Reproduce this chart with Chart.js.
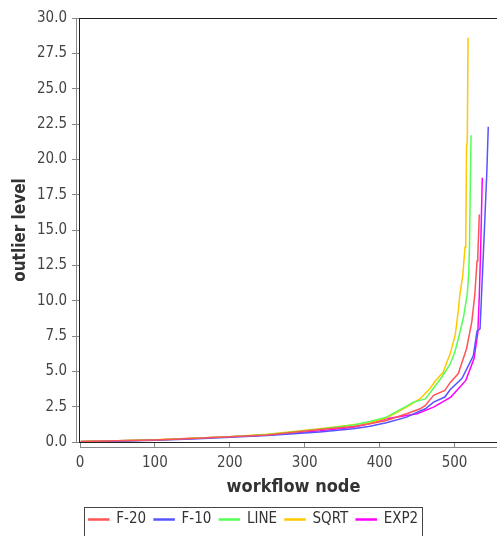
<!DOCTYPE html>
<html>
<head>
<meta charset="utf-8">
<script src="https://cdn.jsdelivr.net/npm/chart.js@4.4.0/dist/chart.umd.min.js"></script>
<style>
  html, body { margin: 0; padding: 0; background: #fff; overflow: hidden; }
  #wrap { width: 497px; height: 536px; overflow: hidden; }
</style>
</head>
<body>
<div id="wrap"><canvas id="myChart" width="515" height="545"></canvas></div>
<script>
var seriesNames = ["F-20", "F-10", "LINE", "SQRT", "EXP2"];
var seriesColors = ["#ff5555", "#5555ff", "#55ff55", "#ffc800", "#ff00ff"];

var f20Nodes = [1, 50, 100, 150, 200, 250, 320, 365, 387, 409, 436, 454, 461, 472, 487, 494, 505, 516, 523, 527, 530, 531, 533];
var f20Values = [0.03, 0.08, 0.15, 0.25, 0.37, 0.5, 0.88, 1.1, 1.29, 1.52, 2.0, 2.35, 2.59, 3.3, 3.65, 4.2, 4.84, 6.6, 8.5, 10.4, 12.8, 13.1, 16.1];

var f10Nodes = [1, 50, 100, 150, 200, 250, 320, 365, 387, 409, 436, 454, 461, 472, 487, 494, 510, 525, 530, 534, 536, 539, 543, 545];
var f10Values = [0.02, 0.06, 0.13, 0.22, 0.33, 0.46, 0.7, 0.94, 1.12, 1.36, 1.76, 2.2, 2.35, 2.82, 3.18, 3.7, 4.5, 6.1, 7.85, 8.0, 10.4, 14.0, 19.0, 22.3];

var lineNodes = [1, 50, 100, 150, 200, 250, 320, 365, 387, 409, 436, 445, 461, 476, 483, 494, 500, 506, 512, 517, 519, 520, 521, 522];
var lineValues = [0.03, 0.08, 0.15, 0.25, 0.37, 0.52, 0.9, 1.2, 1.45, 1.76, 2.54, 2.82, 3.05, 4.1, 4.6, 5.5, 6.3, 7.5, 8.85, 10.5, 12.0, 14.0, 18.0, 21.7];

var sqrtNodes = [1, 50, 100, 150, 200, 250, 320, 365, 387, 409, 436, 454, 467, 474, 485, 490, 494, 501, 505, 507, 511, 514, 515, 516, 517, 518];
var sqrtValues = [0.03, 0.08, 0.16, 0.26, 0.38, 0.55, 0.94, 1.22, 1.37, 1.7, 2.47, 3.06, 3.77, 4.3, 4.95, 5.7, 6.2, 7.6, 9.3, 10.4, 11.8, 13.8, 14.5, 20.9, 21.3, 28.6];

var exp2Nodes = [1, 50, 100, 150, 200, 250, 320, 365, 387, 409, 436, 450, 472, 495, 515, 526, 531, 533, 535, 537];
var exp2Values = [0.03, 0.08, 0.15, 0.26, 0.38, 0.5, 0.8, 1.05, 1.3, 1.64, 1.88, 2.0, 2.47, 3.18, 4.36, 5.9, 7.7, 10.3, 14.0, 18.7];

var allNodes = [f20Nodes, f10Nodes, lineNodes, sqrtNodes, exp2Nodes];
var allValues = [f20Values, f10Values, lineValues, sqrtValues, exp2Values];

var font = "'DejaVu Sans Condensed', 'DejaVu Sans', sans-serif";

function pairs(xs, ys) {
  var out = [];
  for (var i = 0; i < xs.length; i++) out.push({x: xs[i], y: ys[i]});
  return out;
}

var datasets = [];
for (var i = 0; i < seriesNames.length; i++) {
  datasets.push({
    label: seriesNames[i],
    data: pairs(allNodes[i], allValues[i]),
    borderColor: seriesColors[i],
    backgroundColor: seriesColors[i],
    borderWidth: 1.5,
    pointRadius: 0,
    tension: 0
  });
}

// plot frame, offset axis lines and legend box
var framePlugin = {
  id: "frame",
  beforeDatasetsDraw: function(chart) {
    var a = chart.chartArea, ctx = chart.ctx;
    ctx.save();
    ctx.strokeStyle = "#888";
    ctx.lineWidth = 1;
    ctx.beginPath();
    ctx.moveTo(a.left - 3.5, a.top);
    ctx.lineTo(a.left - 3.5, a.bottom);
    ctx.moveTo(a.left, a.bottom + 5.5);
    ctx.lineTo(a.right, a.bottom + 5.5);
    ctx.stroke();
    ctx.restore();
  },
  afterDraw: function(chart) {
    var a = chart.chartArea, ctx = chart.ctx;
    ctx.save();
    ctx.strokeStyle = "#222";
    ctx.lineWidth = 1;
    ctx.strokeRect(Math.round(a.left) - 0.5, Math.round(a.top) + 0.5,
                   Math.round(a.right - a.left), Math.round(a.bottom - a.top));
    var boxes = chart.legend.legendHitBoxes;
    if (boxes && boxes.length) {
      var l = boxes[0].left, r = boxes[boxes.length - 1].left + boxes[boxes.length - 1].width;
      ctx.strokeStyle = "#444";
      ctx.strokeRect(Math.round(l) - 4.5, chart.legend.top + 3.5, Math.round(r - l) + 9, 40);
    }
    ctx.restore();
  }
};

new Chart("myChart", {
  type: "line",
  data: { datasets: datasets },
  options: {
    responsive: false,
    animation: false,
    layout: { padding: { left: 0, right: 8, top: 18, bottom: 8 } },
    plugins: {
      tooltip: { enabled: false },
      legend: {
        position: "bottom",
        labels: {
          color: "#333",
          font: { family: font, size: 15 },
          boxWidth: 20,
          boxHeight: 1,
          padding: 8
        }
      }
    },
    scales: {
      x: {
        type: "linear",
        min: 0,
        max: 570,
        afterFit: function(s) { s.height = 62; },
        border: { display: false },
        grid: { drawOnChartArea: false, drawTicks: true, tickLength: 6, color: "#888" },
        ticks: {
          stepSize: 100,
          color: "#444",
          padding: 6,
          maxRotation: 0,
          font: { family: font, size: 15 },
          callback: function(v) { return v % 100 === 0 ? v : ""; }
        },
        title: {
          display: true,
          text: "workflow node",
          color: "#333",
          font: { family: font, size: 18, weight: "bold" },
          padding: { top: 2, bottom: 6 }
        }
      },
      y: {
        min: 0,
        max: 30,
        afterFit: function(s) { s.width = 80; },
        border: { display: false },
        grid: { drawOnChartArea: false, drawTicks: true, tickLength: 8, color: "#888" },
        ticks: {
          stepSize: 2.5,
          color: "#444",
          padding: 5,
          font: { family: font, size: 15 },
          callback: function(v) { return v.toFixed(1); }
        },
        title: {
          display: true,
          text: "outlier level",
          color: "#333",
          font: { family: font, size: 17, weight: "bold" },
          padding: { top: 10, bottom: 2 }
        }
      }
    }
  },
  plugins: [framePlugin]
});
</script>
</body>
</html>
